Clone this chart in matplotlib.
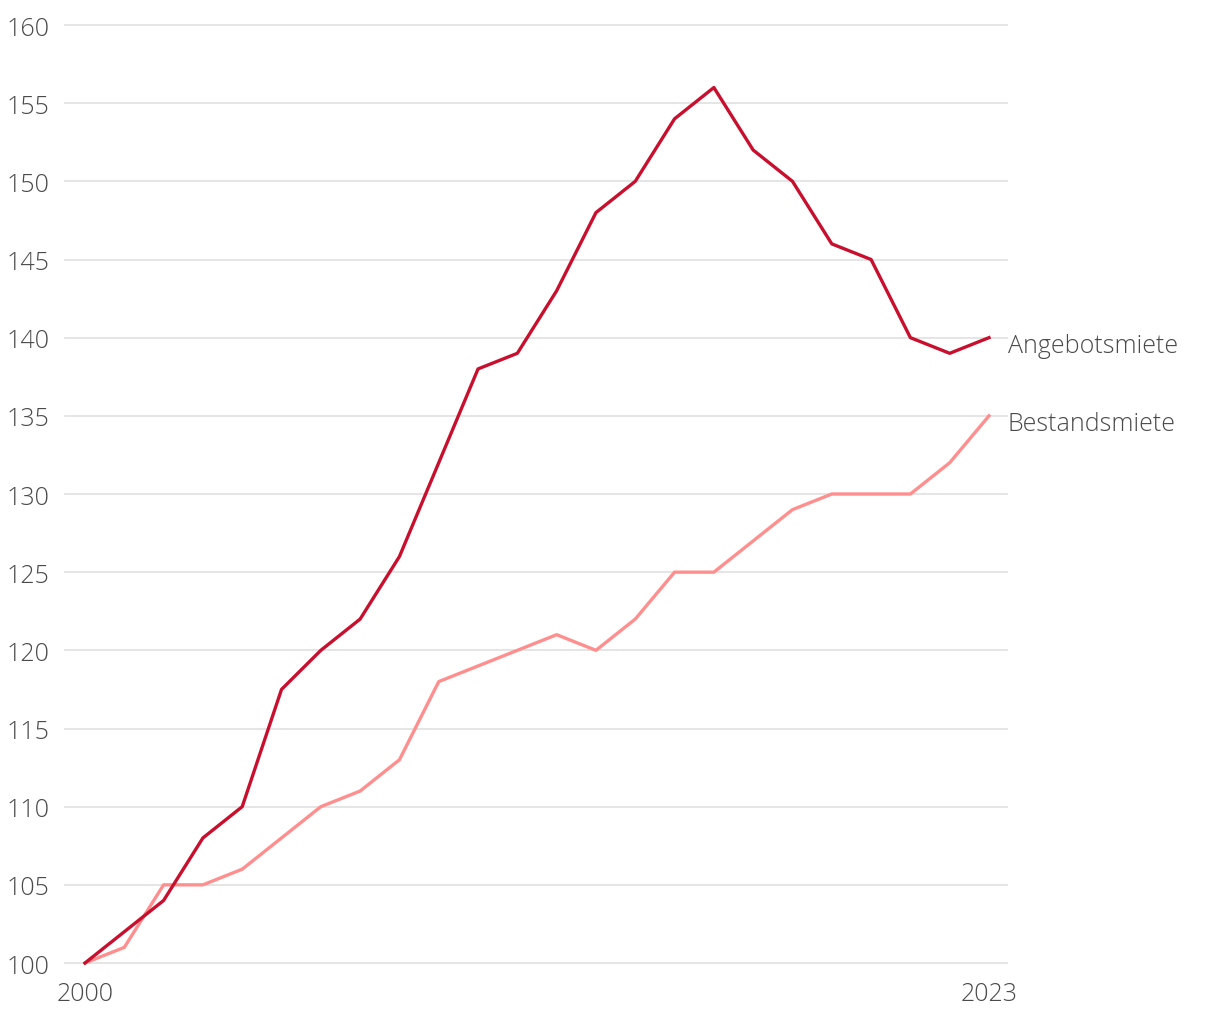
import matplotlib.pyplot as plt

years = list(range(2000, 2024))
angebot = [100, 102, 104, 108, 110, 117.5, 120, 122, 126, 132, 138, 139,
           143, 148, 150, 154, 156, 152, 150, 146, 145, 140, 139, 140]
bestand = [100, 101, 105, 105, 106, 108, 110, 111, 113, 118, 119, 120,
           121, 120, 122, 125, 125, 127, 129, 130, 130, 130, 132, 135]
yticks = list(range(100, 161, 5))

text_col = "#4a4a4a"
plt.rcParams['font.family'] = ['Open Sans', 'DejaVu Sans']


def main():
    fig = plt.figure(figsize=(12.2, 10.2), dpi=100)
    ax = fig.add_axes([65 / 1220, 56 / 1020, 942 / 1220, 938 / 1020])

    ax.set_xlim(2000 - 20 / 39.3, 2023 + 18 / 39.3)
    ax.set_ylim(100, 160)

    for y in yticks:
        ax.axhline(y, color="#e3e3e3", lw=1.3, zorder=0, clip_on=False)

    ax.plot(years, bestand, color="#ff8f8f", lw=2.4, clip_on=False, zorder=2)
    ax.plot(years, angebot, color="#c8102e", lw=2.4, clip_on=False, zorder=3)

    ax.text(2023.48, angebot[-1] - 0.5, "Angebotsmiete", fontsize=18,
            color=text_col, va="center", ha="left", fontweight="light")
    ax.text(2023.48, bestand[-1] - 0.5, "Bestandsmiete", fontsize=18,
            color=text_col, va="center", ha="left", fontweight="light")

    for s in ax.spines.values():
        s.set_visible(False)
    ax.set_yticks(yticks)
    ax.set_yticklabels([str(t) for t in yticks], fontsize=18, color=text_col,
                       fontweight="light")
    ax.set_xticks([2000, 2023])
    ax.set_xticklabels(["2000", "2023"], fontsize=18, color=text_col,
                       fontweight="light")
    ax.tick_params(length=0, axis="y", pad=11)
    ax.tick_params(length=0, axis="x", pad=13)

    fig.savefig("out.png", dpi=100)


if __name__ == "__main__":
    main()
